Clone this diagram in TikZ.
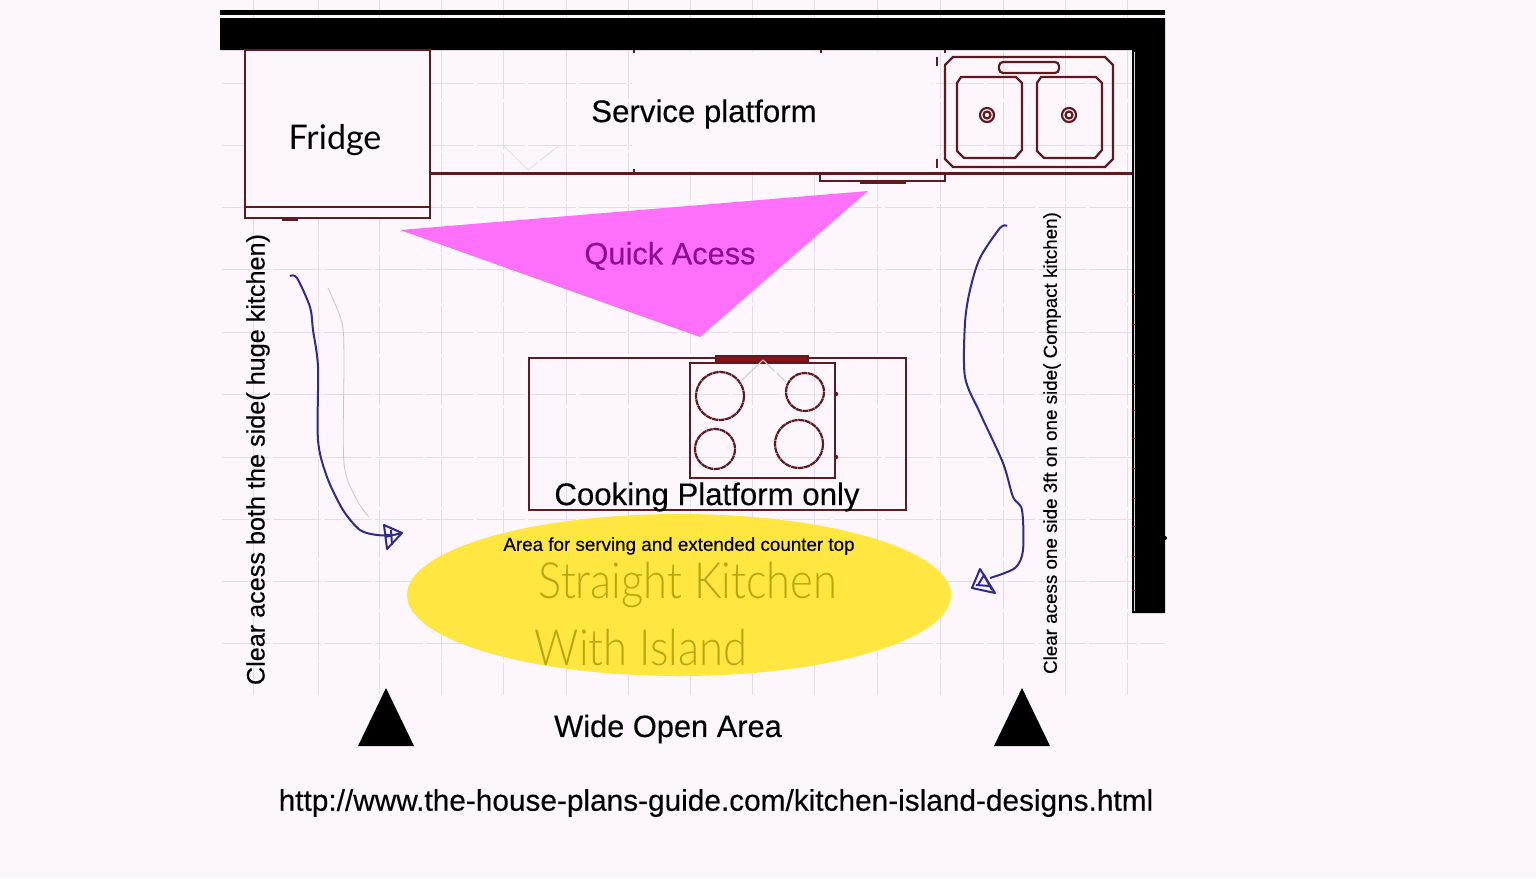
\documentclass[tikz,border=0pt]{standalone}
\usepackage{fontspec}
\setmainfont{Liberation Sans}[FakeBold=0.25]
\newfontfamily\handfont{Lato Light}
\newfontfamily\fridgefont{Lato}
\definecolor{paper}{HTML}{FDF6FD}
\definecolor{gridline}{HTML}{E4DCE6}
\definecolor{plan}{HTML}{5E1A1E}
\definecolor{penblue}{HTML}{2F2A8E}
\definecolor{pink}{HTML}{FF70FA}
\definecolor{plum}{HTML}{8E0C96}
\definecolor{sun}{HTML}{FFE640}
\definecolor{olive}{HTML}{B8A810}
\tikzset{
	gridrule/.style={gridline, line width=0.5pt, dash pattern=on 24pt off 1.5pt},
	planline/.style={plan, line width=1.1pt},
	penline/.style={penblue, line width=1pt, line join=round},
	wall/.style={fill=black, draw=none},
	burner/.style={planline, dash pattern=on 3pt off 0.3pt},
	caption/.style={inner sep=0pt, black},
	handwriting/.style={caption, olive, font=\handfont\fontsize{25}{26}\selectfont, xscale=0.87, transform shape},
}
\begin{document}
\begin{tikzpicture}[x=0.5pt,y=-0.5pt]
	\useasboundingbox (0,0) rectangle (1536,878);
	\fill[paper] (0,0) rectangle (1536,878);
	% grid of the plan
	\foreach \x in {253,318,379,441,503,566,628,690,752,814,877,940,1003,1065,1127}
	  {
	      \draw[gridrule] (\x,0) -- (\x,695);
	  }
	\foreach \y in {83,145,207,269,332,394,457,519,581,643}
	  {
	      \draw[gridrule] (222,\y) -- (1165,\y);
	  }
	\fill[paper] (632,52) rectangle (932,171);
	\draw[gridrule] (503,145) -- (528,170) -- (560,145);
	% walls
	\fill[wall] (220,10) rectangle (1165,14.5);
	\fill[wall] (220,18) -- (1165,18) -- (1165,613) -- (1132,613) -- (1132,50) -- (220,50) -- cycle;
	\draw[paper!70!gray, line width=0.5pt] (1134,52) -- (1134,611);
	\foreach \y in {294,324,354,384,410,438,468,498,526,556,590}
	  {
	      \draw[plan, line width=0.5pt] (1132,\y) -- (1136,\y);
	  }
	\fill (1165,538) circle (2);
	% fridge
	\filldraw[planline, fill=paper] (245,50) rectangle (430,218);
	\draw[planline] (245,207) -- (430,207);
	\fill[plan] (282,218) rectangle (298,221);
	\node[caption, font=\fridgefont\fontsize{17}{17}\selectfont] (fridge) at (335,140) {Fridge};
	% service platform
	\draw[planline] (430,173.5) -- (1132,173.5);
	\foreach \x in {634,821,945}
	  {
	      \draw[planline] (\x,50) -- (\x,53);
	  }
	\draw[planline] (634,169) -- (634,173);
	\draw[planline] (937,57) -- (937,66);
	\draw[planline] (937,159) -- (937,168);
	\draw[planline] (820,173.5) rectangle (945,181);
	\fill[plan] (860,181) rectangle (906,183.5);
	\node[caption, font=\fontsize{15.6}{16}\selectfont] (service) at (704,114) {Service platform};
	% sink
	\draw[planline] (953,57) -- (1105,57) -- (1113,65) -- (1113,159) -- (1105,167) -- (953,167) -- (945,159) -- (945,65) -- cycle;
	\draw[planline, rounded corners=2pt] (999,62) rectangle (1059,73);
	\foreach \x in {957,1037}
	  {
	      \draw[planline] (\x+4,77) -- (\x+59,77) -- (\x+65,83) -- (\x+65,150) -- (\x+58,158) -- (\x+7,158) -- (\x,151) -- (\x,83) -- cycle;
	  }
	\foreach \x in {987,1069}
	  {
	      \draw[planline] (\x,115) circle (7);
	      \draw[planline] (\x,115) circle (3.5);
	  }
	% quick access
	\fill[pink] (400,230) -- (868,191) -- (700,337) -- cycle;
	\node[caption, plum, font=\fontsize{15.4}{16}\selectfont] (quick) at (670,256) {Quick Acess};
	% island
	\draw[planline] (529,358) rectangle (906,510);
	\draw[planline] (690,363) rectangle (835,478);
	\filldraw[planline, fill=plan!70!red] (716,356) rectangle (808,362);
	\foreach \x/\y/\r in {720/396/24,805/392/19,715/449/20,799/444/24}
	  {
	      \draw[burner] (\x,\y) circle (\r);
	  }
	\fill[plan] (836,394) circle (2.2);
	\fill[plan] (836,457) circle (2.2);
	\draw[gridrule, gray!40] (740,382) -- (763,360) -- (786,382);
	\node[caption, font=\fontsize{15.6}{16}\selectfont] (cooking) at (707,497) {Cooking Platform only};
	% extended counter
	\fill[sun] (679,595) ellipse (272 and 81);
	\node[caption, font=\fontsize{9.4}{10}\selectfont] (serving) at (679,546) {Area for serving and extended counter top};
	\node[handwriting] (straight) at (688,585) {Straight Kitchen};
	\node[handwriting] (island) at (641,648) {With Island};
	% ways round the island
	\draw[gray!45, line width=0.4pt] plot[smooth] coordinates {(328,288) (342,323) (344,360) (344,463) (357,500) (369,517)};
	\draw[penline] plot[smooth] coordinates {(290,276) (297,278) (310,307) (313,330) (318,367) (318,440) (327,477) (343,510) (360,530) (377,535) (390,535)};
	\draw[penline] (384,525) -- (402,533) -- (387,549) -- cycle;
	\draw[penline] (385,537) -- (402,533) (391,530) -- (392,545);
	\draw[penline] plot[smooth] coordinates {(1007,226) (1000,228) (980,258) (970,290) (965,323) (965,377) (980,413) (1003,463) (1013,497) (1022,510) (1023,550) (1015,568) (990,578)};
	\draw[penline] (980,569) -- (995,593) -- (972,588) -- cycle;
	\draw[penline] (978,585) -- (984,575) -- (992,590) (976,585) -- (990,586);
	\node[caption, rotate=90, font=\fontsize{12.6}{13}\selectfont] (hugeside) at (258,459.5) {Clear acess both the side( huge kitchen)};
	\node[caption, rotate=90, font=\fontsize{9.4}{10}\selectfont] (compactside) at (1052,443) {Clear acess one side 3ft on one side( Compact kitchen)};
	% openings
	\foreach \x in {386,1022}
	  {
	      \fill (\x,688) -- (\x+28,746) -- (\x-28,746) -- cycle;
	  }
	\node[caption, font=\fontsize{15.4}{16}\selectfont] (openarea) at (668,729) {Wide Open Area};
	\node[caption, font=\fontsize{14.9}{15}\selectfont] (weblink) at (716,803) {http://www.the-house-plans-guide.com/kitchen-island-designs.html};
\end{tikzpicture}
\end{document}
